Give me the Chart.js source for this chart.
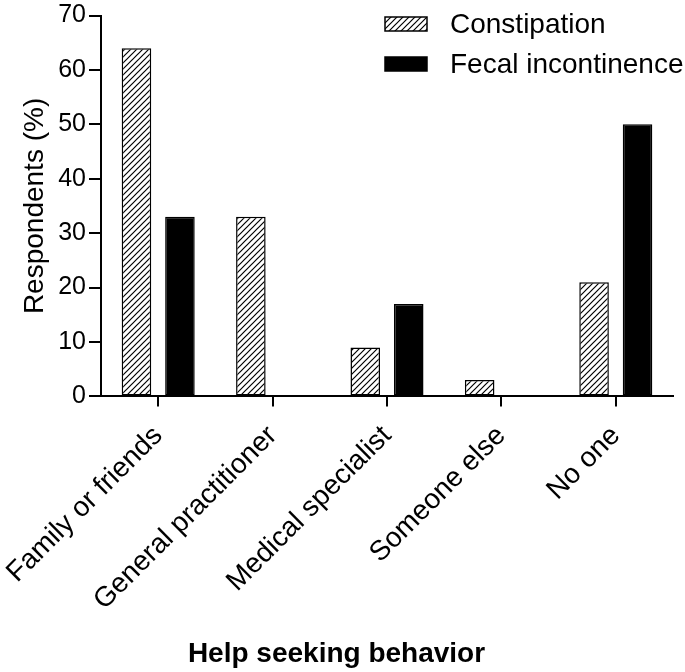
<!DOCTYPE html>
<html><head><meta charset="utf-8">
<script src="https://cdn.jsdelivr.net/npm/chart.js@4"></script>
<style>html,body{margin:0;padding:0;background:#fff}#wrap{width:685px;height:672px}</style>
</head><body><div id="wrap"><canvas id="c" width="685" height="672"></canvas></div>
<script>
const categories = ['Family or friends','General practitioner','Medical specialist','Someone else','No one'];
const constipation = [64,33,9,3,21];
const fecalIncontinence = [33,0,17,0,50];
const seriesLabels = ['Constipation','Fecal incontinence'];
const yTicks = [0,10,20,30,40,50,60,70];
const yTitle = 'Respondents (%)';
const xTitle = 'Help seeking behavior';

const FONT = '"Liberation Sans", Arial, Helvetica, sans-serif';

function hatch(){
  const c = document.createElement('canvas'); c.width = 6; c.height = 6;
  const g = c.getContext('2d');
  g.fillStyle = '#fff'; g.fillRect(0,0,6,6);
  g.strokeStyle = '#000'; g.lineWidth = 1.2;
  g.beginPath();
  g.moveTo(0,6); g.lineTo(6,0);
  g.moveTo(-3,3); g.lineTo(3,-3);
  g.moveTo(3,9); g.lineTo(9,3);
  g.stroke();
  return g.createPattern(c,'repeat');
}

const legendPlugin = {
  id: 'customLegend',
  afterDraw(chart){
    const ctx = chart.ctx;
    chart.data.datasets.forEach((ds,i)=>{
      const y = 24 + i*40;
      ctx.save();
      ctx.fillStyle = ds.backgroundColor;
      ctx.fillRect(385, y-7, 42, 14);
      ctx.strokeStyle = '#000'; ctx.lineWidth = 1.5;
      ctx.strokeRect(385, y-7, 42, 14);
      ctx.fillStyle = '#000';
      ctx.font = '28px ' + FONT;
      ctx.textBaseline = 'middle'; ctx.textAlign = 'left';
      ctx.fillText(ds.label, 450, y+1);
      ctx.restore();
    });
  }
};

new Chart(document.getElementById('c'), {
  type: 'bar',
  data: {
    labels: categories,
    datasets: [
      {label: seriesLabels[0], data: constipation, backgroundColor: hatch(), borderColor: '#000', borderWidth: 1.5, borderSkipped: false, categoryPercentage: 0.76, barPercentage: 0.68},
      {label: seriesLabels[1], data: fecalIncontinence, backgroundColor: '#000', borderColor: '#000', borderWidth: 1.5, borderSkipped: false, categoryPercentage: 0.76, barPercentage: 0.68}
    ]
  },
  options: {
    responsive: false,
    animation: false,
    devicePixelRatio: 1,
    layout: {padding: {top: 12, right: 12, left: 0, bottom: 0}},
    plugins: {
      legend: {display: false},
      tooltip: {enabled: false},
      title: {display: true, text: xTitle, position: 'bottom', color: '#000',
        font: {family: FONT, size: 28, weight: 'bold'}, padding: {top: 0, bottom: 1}}
    },
    scales: {
      x: {
        grid: {offset: false, drawOnChartArea: false, drawTicks: true, tickLength: 10, color: '#000', lineWidth: 2},
        border: {color: '#000', width: 2},
        ticks: {color: '#000', font: {family: FONT, size: 28}, minRotation: 45, maxRotation: 45, padding: 13, autoSkip: false},
        afterFit(s){ s.height = 241; s.paddingLeft = 0; s.paddingRight = 0; }
      },
      y: {
        min: 0, max: 70,
        afterBuildTicks(s){ s.ticks = yTicks.map(v => ({value: v})); },
        grid: {drawOnChartArea: false, drawTicks: true, tickLength: 12, color: '#000', lineWidth: 2},
        border: {color: '#000', width: 2},
        ticks: {color: '#000', font: {family: FONT, size: 25, lineHeight: 1}, padding: 3},
        title: {display: true, text: yTitle, color: '#000', font: {family: FONT, size: 28}, padding: {top: 18, bottom: 0}},
        afterFit(s){ s.width = 101; }
      }
    }
  },
  plugins: [legendPlugin]
});
</script>
</body></html>
